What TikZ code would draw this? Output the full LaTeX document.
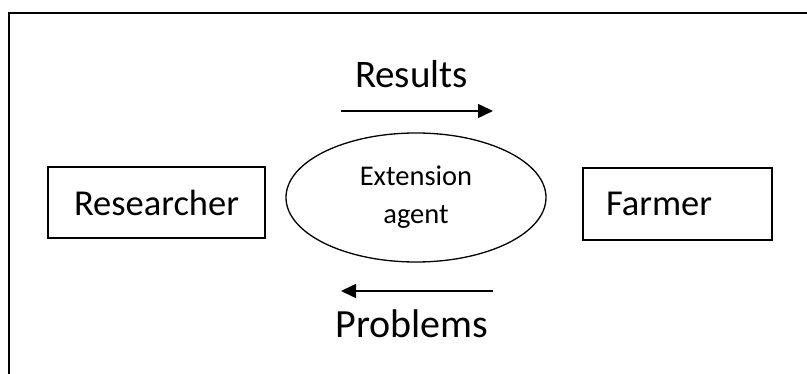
\documentclass[tikz,border=0pt]{standalone}
\usepackage{fontspec}
\setmainfont{Carlito}
\usetikzlibrary{shapes.geometric,arrows.meta}
\tikzset{
  frameline/.style={line width=2pt, black},
  boxnode/.style={draw, line width=1.4pt, minimum height=71pt, inner sep=0pt, font=\fontsize{36.5}{40}\selectfont},
  agentnode/.style={draw, ellipse, line width=1.3pt, minimum width=260pt, minimum height=129pt, inner sep=0pt, align=center, font=\fontsize{28.5}{38}\selectfont},
  flowlabel/.style={anchor=base, inner sep=0pt, font=\fontsize{39}{43}\selectfont},
  flowarrow/.style={line width=1.5pt, -{Triangle[length=15pt,width=14pt]}}
}
\begin{document}
\begin{tikzpicture}[x=1pt,y=-1pt]
\useasboundingbox (0,0) rectangle (807,374);
\draw[frameline] (807,13) -- (8.5,13) -- (8.5,374);
\node[boxnode, minimum width=217pt] (researcher) at (156.5,202.5) {Researcher};
\node[boxnode, minimum width=189pt, text width=143pt, inner xsep=23pt, align=left, minimum height=72pt] (farmer) at (677.5,204) {Farmer};
\node[agentnode] (agent) at (416,197.5) {Extension\\agent};
\node[flowlabel] (results) at (411.5,88) {Results};
\node[flowlabel, font=\fontsize{40}{44}\selectfont] (problems) at (412,338) {Problems};
\coordinate (rs) at (341,111);
\coordinate (re) at (493,111);
\coordinate (ps) at (493,291);
\coordinate (pe) at (341,291);
\draw[flowarrow] (rs) -- (re);
\draw[flowarrow] (ps) -- (pe);
\end{tikzpicture}
\end{document}
